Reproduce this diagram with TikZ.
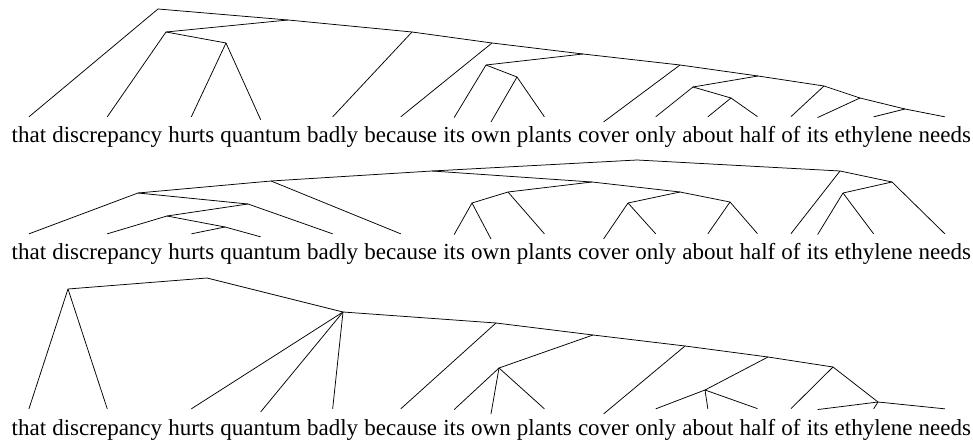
\documentclass[tikz,border=0pt]{standalone}
\usepackage{fontspec}
\setmainfont{Liberation Serif}
\tikzset{
  word/.style={inner xsep=0pt, inner ysep=10pt, font=\fontsize{23}{27}\selectfont},
  edge/.style={line width=0.75pt, black}
}
\newcommand\wordrow[2]{%
  \node[word, anchor=base west] (#1that) at (11.5,#2) {that};
  \node[word, anchor=base west] (#1discrepancy) at ([xshift=5.75pt]#1that.base east) {discrepancy};
  \node[word, anchor=base west] (#1hurts) at ([xshift=5.75pt]#1discrepancy.base east) {hurts};
  \node[word, anchor=base west] (#1quantum) at ([xshift=5.75pt]#1hurts.base east) {quantum};
  \node[word, anchor=base west] (#1badly) at ([xshift=5.75pt]#1quantum.base east) {badly};
  \node[word, anchor=base west] (#1because) at ([xshift=5.75pt]#1badly.base east) {because};
  \node[word, anchor=base west] (#1its) at ([xshift=5.75pt]#1because.base east) {its};
  \node[word, anchor=base west] (#1own) at ([xshift=5.75pt]#1its.base east) {own};
  \node[word, anchor=base west] (#1plants) at ([xshift=5.75pt]#1own.base east) {plants};
  \node[word, anchor=base west] (#1cover) at ([xshift=5.75pt]#1plants.base east) {cover};
  \node[word, anchor=base west] (#1only) at ([xshift=5.75pt]#1cover.base east) {only};
  \node[word, anchor=base west] (#1about) at ([xshift=5.75pt]#1only.base east) {about};
  \node[word, anchor=base west] (#1half) at ([xshift=5.75pt]#1about.base east) {half};
  \node[word, anchor=base west] (#1of) at ([xshift=5.75pt]#1half.base east) {of};
  \node[word, anchor=base west] (#1itsb) at ([xshift=5.75pt]#1of.base east) {its};
  \node[word, anchor=base west] (#1ethylene) at ([xshift=5.75pt]#1itsb.base east) {ethylene};
  \node[word, anchor=base west] (#1needs) at ([xshift=5.75pt]#1ethylene.base east) {needs};
}
\newcommand\brn[2]{\draw[edge] (#1) -- (#2);}
\newcommand\brl[2]{\draw[edge] (#1) -- (#2.north);}
\begin{document}
\begin{tikzpicture}[x=1pt, y=-1pt]
\useasboundingbox (0,0) rectangle (973,443);
% ---------- tree 1 ----------
\wordrow{a}{143}
\coordinate (aR) at (158,9);
\coordinate (aA) at (288,20);
\coordinate (aB) at (166,32);
\coordinate (aC) at (412,32);
\coordinate (aD) at (226,43);
\coordinate (aE) at (492,43);
\coordinate (aF) at (583,54);
\coordinate (aG) at (486,65);
\coordinate (aH) at (680,65);
\coordinate (aI) at (517,77);
\coordinate (aJ) at (758,76);
\coordinate (aK) at (693,87);
\coordinate (aL) at (824,86);
\coordinate (aM) at (731,98);
\coordinate (aN) at (860,98);
\coordinate (aO) at (905,109);
\brl{aR}{athat} \brn{aR}{aA}
\brn{aA}{aB} \brn{aA}{aC}
\brl{aB}{adiscrepancy} \brn{aB}{aD}
\brl{aD}{ahurts} \brl{aD}{aquantum}
\brl{aC}{abadly} \brn{aC}{aE}
\brl{aE}{abecause} \brn{aE}{aF}
\brn{aF}{aG} \brn{aF}{aH}
\brl{aG}{aits} \brn{aG}{aI}
\brl{aI}{aown} \brl{aI}{aplants}
\brl{aH}{acover} \brn{aH}{aJ}
\brn{aJ}{aK} \brn{aJ}{aL}
\brl{aK}{aonly} \brn{aK}{aM}
\brl{aM}{aabout} \brl{aM}{ahalf}
\brl{aL}{aof} \brn{aL}{aN}
\brl{aN}{aitsb} \brn{aN}{aO}
\brl{aO}{aethylene} \brl{aO}{aneeds}
% ---------- tree 2 ----------
\wordrow{b}{260}
\coordinate (bZ) at (637,160);
\coordinate (bV) at (432,171);
\coordinate (bAA) at (840,171);
\coordinate (bQ) at (271,181);
\coordinate (bAF) at (592,182);
\coordinate (bP) at (138,193);
\coordinate (bS) at (248,204);
\coordinate (bT) at (167,216);
\coordinate (bU) at (225,227);
\coordinate (bAE) at (508,192);
\coordinate (bAD) at (472,203);
\coordinate (bX) at (680,192);
\coordinate (bW) at (628,203);
\coordinate (bY) at (730,202);
\coordinate (bAB) at (892,182);
\coordinate (bAC) at (843,193);
\brn{bZ}{bV} \brn{bZ}{bAA}
\brn{bV}{bQ} \brn{bV}{bAF}
\brn{bQ}{bP} \brl{bQ}{bbecause}
\brl{bP}{bthat} \brn{bP}{bS}
\brn{bS}{bT} \brl{bS}{bbadly}
\brl{bT}{bdiscrepancy} \brn{bT}{bU}
\brl{bU}{bhurts} \brl{bU}{bquantum}
\brn{bAF}{bAE} \brn{bAF}{bX}
\brn{bAE}{bAD} \brl{bAE}{bplants}
\brl{bAD}{bits} \brl{bAD}{bown}
\brn{bX}{bW} \brn{bX}{bY}
\brl{bW}{bcover} \brl{bW}{bonly}
\brl{bY}{babout} \brl{bY}{bhalf}
\brl{bAA}{bof} \brn{bAA}{bAB}
\brn{bAB}{bAC} \brl{bAB}{bneeds}
\brl{bAC}{bitsb} \brl{bAC}{bethylene}
% ---------- tree 3 ----------
\wordrow{c}{435}
\coordinate (cR) at (207,278);
\coordinate (cS) at (68,289);
\coordinate (cAG) at (343,312);
\coordinate (cAH) at (496,323);
\coordinate (cAI) at (593,335);
\coordinate (cAJ) at (499,368);
\coordinate (cAK) at (685,346);
\coordinate (cAL) at (768,357);
\coordinate (cAM) at (705,390);
\coordinate (cAN) at (833,367);
\coordinate (cAO) at (878,402);
\brn{cR}{cS} \brn{cR}{cAG}
\brl{cS}{cthat} \brl{cS}{cdiscrepancy}
\brl{cAG}{churts} \brl{cAG}{cquantum} \brl{cAG}{cbadly} \brn{cAG}{cAH}
\brl{cAH}{cbecause} \brn{cAH}{cAI}
\brn{cAI}{cAJ} \brn{cAI}{cAK}
\brl{cAJ}{cits} \brl{cAJ}{cown} \brl{cAJ}{cplants}
\brl{cAK}{ccover} \brn{cAK}{cAL}
\brn{cAL}{cAM} \brn{cAL}{cAN}
\brl{cAM}{conly} \brl{cAM}{cabout} \brl{cAM}{chalf}
\brl{cAN}{cof} \brn{cAN}{cAO}
\brl{cAO}{citsb} \brl{cAO}{cethylene} \brl{cAO}{cneeds}
\end{tikzpicture}
\end{document}
